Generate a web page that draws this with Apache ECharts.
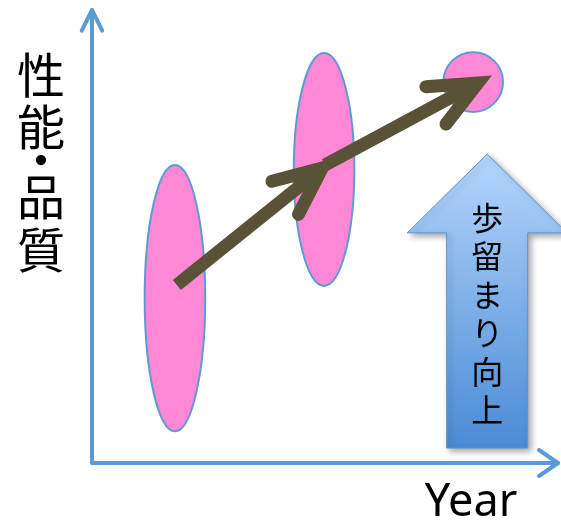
<!DOCTYPE html>
<html>
<head>
<meta charset="utf-8">
<script src="https://cdn.jsdelivr.net/npm/echarts@6/dist/echarts.min.js"></script>
<style>
  html, body { margin: 0; padding: 0; background: #fff; }
  #chart { width: 561px; height: 528px; }
</style>
</head>
<body>
<div id="chart"></div>
<script>
// Development stages along the time axis (axis units 0..10)
const stageYear = [1.78, 4.98, 8.18];
const stageLevel = [3.64, 6.48, 8.41];
const levelSpread = [2.94, 2.57, 0.66];
const yearSpread = [0.65, 0.65, 0.64];

// Progress arrows between stages
const progressFrom = [[1.82, 3.93], [5.0, 6.58]];
const progressTo = [[4.94, 6.51], [8.28, 8.39]];

// Yield improvement arrow: year, base level, head start level, tip level
const yieldYear = 8.48;
const yieldBase = 0.33;
const yieldHeadStart = 5.08;
const yieldTip = 6.82;
const yieldLabel = '歩留まり向上';

// Axis titles
const yTitleChars = ['性', '能', '・', '品', '質'];
const xTitle = 'Year';

const AXIS_BLUE = '#5b9bd5';
const ARROW_OLIVE = '#5a5236';
const JP_FONT = '"Noto Sans CJK JP", "Noto Sans CJK SC", sans-serif';

function chevron(tip, angle, len, half) {
  const back = angle + Math.PI;
  return [
    [tip[0] + len * Math.cos(back + half), tip[1] + len * Math.sin(back + half)],
    [tip[0], tip[1]],
    [tip[0] + len * Math.cos(back - half), tip[1] + len * Math.sin(back - half)]
  ];
}

const stageData = stageYear.map((x, i) => [x, stageLevel[i], yearSpread[i], levelSpread[i]]);
const progressData = progressFrom.map((p, i) => [p[0], p[1], progressTo[i][0], progressTo[i][1]]);

const chart = echarts.init(document.getElementById('chart'), null, { renderer: 'canvas' });

chart.setOption({
  animation: false,
  backgroundColor: '#ffffff',
  grid: { left: 92, right: 3, top: 10, bottom: 65 },
  xAxis: { type: 'value', min: 0, max: 10, show: false },
  yAxis: { type: 'value', min: 0, max: 10, show: false },
  graphic: [
    ...yTitleChars.map((ch, i) => ({
      type: 'text',
      x: 41,
      y: [75, 127, 160, 197, 250][i],
      style: {
        text: ch,
        font: '48px ' + JP_FONT,
        fill: '#000',
        align: 'center',
        verticalAlign: 'middle'
      }
    })),
    {
      type: 'text',
      x: 471,
      y: 503,
      style: {
        text: xTitle,
        font: '45px "Noto Sans", sans-serif',
        fill: '#000',
        align: 'center',
        verticalAlign: 'middle'
      }
    }
  ],
  series: [
    {
      // axis lines with open arrowheads
      type: 'custom',
      silent: true,
      clip: false,
      data: [[0, 0]],
      z: 1,
      renderItem(params) {
        const cs = params.coordSys;
        const origin = [cs.x, cs.y + cs.height];
        const yEnd = [cs.x, cs.y];
        const xEnd = [cs.x + cs.width, cs.y + cs.height];
        const style = { stroke: AXIS_BLUE, lineWidth: 4, lineCap: 'round', lineJoin: 'round', fill: null };
        return {
          type: 'group',
          children: [
            { type: 'polyline', shape: { points: [yEnd, origin, xEnd] }, style },
            { type: 'polyline', shape: { points: chevron(yEnd, -Math.PI / 2, 23, 0.46) }, style },
            { type: 'polyline', shape: { points: chevron(xEnd, 0, 23, 0.6) }, style }
          ]
        };
      }
    },
    {
      // stage spread ellipses
      type: 'custom',
      silent: true,
      clip: false,
      z: 2,
      data: stageData,
      renderItem(params, api) {
        const c = api.coord([api.value(0), api.value(1)]);
        const rx = api.size([api.value(2), 0])[0];
        const ry = api.size([0, api.value(3)])[1];
        return {
          type: 'ellipse',
          shape: { cx: c[0], cy: c[1], rx, ry },
          style: { fill: '#ff88d6', stroke: AXIS_BLUE, lineWidth: 2 }
        };
      }
    },
    {
      // progress arrows
      type: 'custom',
      silent: true,
      clip: false,
      z: 3,
      data: progressData,
      renderItem(params, api) {
        const a = api.coord([api.value(0), api.value(1)]);
        const b = api.coord([api.value(2), api.value(3)]);
        const ang = Math.atan2(b[1] - a[1], b[0] - a[0]);
        const shaftEnd = [b[0] - 3 * Math.cos(ang), b[1] - 3 * Math.sin(ang)];
        return {
          type: 'group',
          children: [
            {
              type: 'line',
              shape: { x1: a[0], y1: a[1], x2: shaftEnd[0], y2: shaftEnd[1] },
              style: { stroke: ARROW_OLIVE, lineWidth: 13, lineCap: 'butt' }
            },
            {
              type: 'polyline',
              shape: { points: chevron(b, ang, 52, 0.42) },
              style: { stroke: ARROW_OLIVE, lineWidth: 13, lineCap: 'round', lineJoin: 'miter', fill: null }
            }
          ]
        };
      }
    },
    {
      // yield improvement block arrow
      type: 'custom',
      silent: true,
      clip: false,
      z: 4,
      data: [[yieldYear, yieldBase, yieldHeadStart, yieldTip]],
      renderItem(params, api) {
        const base = api.coord([api.value(0), api.value(1)]);
        const head = api.coord([api.value(0), api.value(2)]);
        const tip = api.coord([api.value(0), api.value(3)]);
        const cx = base[0];
        const shaftHalf = 40.5;
        const headHalf = 80;
        const pts = [
          [cx, tip[1]],
          [cx + headHalf, head[1]],
          [cx + shaftHalf, head[1]],
          [cx + shaftHalf, base[1]],
          [cx - shaftHalf, base[1]],
          [cx - shaftHalf, head[1]],
          [cx - headHalf, head[1]]
        ];
        return {
          type: 'group',
          children: [
            {
              type: 'polygon',
              shape: { points: pts },
              style: {
                fill: {
                  type: 'linear', x: 0, y: 0, x2: 0, y2: 1,
                  colorStops: [
                    { offset: 0, color: '#b4d6fc' },
                    { offset: 1, color: '#4a8bd5' }
                  ]
                },
                stroke: '#5b95d3',
                lineWidth: 1,
                shadowBlur: 6,
                shadowOffsetX: 3,
                shadowOffsetY: 3,
                shadowColor: 'rgba(0,0,0,0.35)'
              }
            },
            {
              type: 'text',
              x: cx,
              y: (tip[1] + base[1]) / 2 + 13,
              style: {
                text: yieldLabel.split('').join('\n'),
                font: '32px ' + JP_FONT,
                lineHeight: 38.5,
                fill: '#000',
                align: 'center',
                verticalAlign: 'middle'
              }
            }
          ]
        };
      }
    }
  ]
});
</script>
</body>
</html>
